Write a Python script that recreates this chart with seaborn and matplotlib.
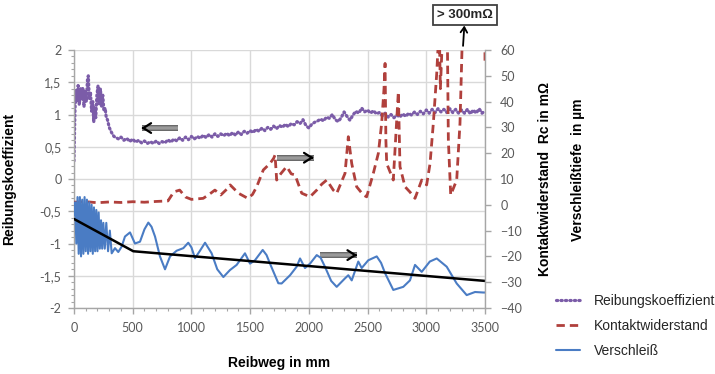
import numpy as np
import pandas as pd
import matplotlib
matplotlib.use("Agg")
import matplotlib.pyplot as plt
import matplotlib.patheffects as pe
import seaborn as sns

# ---- Reibungskoeffizient (linke Achse)
reib_x = [0, 8, 15, 25, 35, 45, 55, 65, 75, 85, 95, 105, 115, 122, 130, 140, 150, 160, 168, 176,
          185, 195, 205, 215, 225, 235, 245, 255, 265, 275, 285, 300, 320, 340, 360, 380,
          400, 425, 450, 475, 500, 525, 550, 575, 600, 625, 650, 675, 700, 725, 750, 775,
          800, 825, 850, 875, 900, 925, 950, 975, 1000, 1025, 1050, 1075, 1100, 1125, 1150, 1175,
          1200, 1225, 1250, 1275, 1300, 1325, 1350, 1375, 1400, 1425, 1450, 1475, 1500, 1525, 1550, 1575,
          1600, 1625, 1650, 1675, 1700, 1725, 1750, 1775, 1800, 1825, 1850, 1875, 1900, 1925, 1950, 1975,
          2000, 2025, 2050, 2075, 2100, 2125, 2150, 2175, 2200, 2225, 2250, 2275, 2300, 2325, 2350, 2375,
          2400, 2425, 2450, 2475, 2500, 2525, 2550, 2575, 2600, 2625, 2650, 2675, 2700, 2725, 2750, 2775,
          2800, 2825, 2850, 2875, 2900, 2925, 2950, 2975, 3000, 3025, 3050, 3075, 3100, 3125, 3150, 3175,
          3200, 3225, 3250, 3275, 3300, 3325, 3350, 3375, 3400, 3425, 3450, 3475, 3500]
reib_y = [0.28, 1.05, 1.38, 1.2, 1.45, 1.15, 1.4, 1.22, 1.42, 1.12, 1.35, 1.2, 1.55, 1.6, 1.25, 1.35, 1.05, 1.2, 0.88, 1.1,
          0.95, 1.3, 1.45, 1.15, 1.4, 1.12, 1.3, 1.05, 1.1, 0.95, 0.92, 0.8, 0.72, 0.66, 0.64, 0.62,
          0.65, 0.60, 0.63, 0.58, 0.62, 0.57, 0.60, 0.56, 0.59, 0.55, 0.58, 0.55, 0.59, 0.55, 0.58, 0.56,
          0.61, 0.57, 0.62, 0.59, 0.64, 0.60, 0.65, 0.61, 0.66, 0.62, 0.66, 0.63, 0.68, 0.64, 0.69, 0.65,
          0.70, 0.66, 0.70, 0.67, 0.71, 0.67, 0.72, 0.68, 0.73, 0.69, 0.74, 0.71, 0.75, 0.72, 0.77, 0.74,
          0.79, 0.75, 0.80, 0.77, 0.82, 0.78, 0.83, 0.80, 0.85, 0.81, 0.86, 0.84, 0.89, 0.86, 0.92, 0.83,
          0.79, 0.85, 0.88, 0.90, 0.93, 0.90, 0.96, 0.94, 1.00, 0.92, 0.89, 0.95, 1.04, 0.97, 0.91, 0.99,
          1.05, 1.02, 1.10, 1.04, 1.07, 1.02, 1.06, 1.01, 1.03, 0.98, 1.02, 0.96, 1.00, 0.95, 0.99, 0.96,
          1.01, 0.97, 1.02, 0.99, 1.04, 1.00, 1.05, 1.01, 1.07, 1.02, 1.08, 1.03, 1.09, 1.04, 1.08, 1.03,
          1.09, 1.03, 1.08, 1.02, 1.07, 1.02, 1.08, 1.01, 1.07, 1.02, 1.09, 1.02, 1.06]

# ---- Kontaktwiderstand in mOhm (rechte Achse)
kontakt_x = [0, 100, 200, 300, 400, 500, 600, 700, 800, 850, 900, 950, 1000, 1100, 1150, 1200, 1250,
             1300, 1330, 1400, 1480, 1520, 1556, 1612, 1669, 1700, 1712, 1726, 1760, 1811, 1850, 1882,
             1939, 2010, 2067, 2110, 2152, 2208, 2237, 2308, 2336, 2365, 2407, 2464, 2492, 2549, 2592,
             2620, 2640, 2649, 2656, 2663, 2719, 2762, 2776, 2819, 2860, 2904, 2961, 3003, 3032, 3060,
             3089, 3110, 3120, 3146, 3174, 3188, 3208, 3259, 3287, 3316, 3340, 3490, 3500]
kontakt_y = [1.0, 1.2, 0.8, 1.1, 0.9, 1.2, 1.0, 1.3, 1.5, 5.0, 5.7, 3.0, 2.1, 2.5, 4.0, 5.7, 3.8,
             6.0, 7.7, 4.5, 2.5, 4.0, 7.0, 13.5, 16.0, 18.0, 19.3, 9.6, 12.0, 14.8, 12.0, 11.6,
             4.5, 3.1, 5.7, 8.0, 9.6, 5.7, 4.4, 12.2, 26.4, 16.0, 7.0, 3.8, 3.1, 12.2, 20.0,
             31.6, 45.0, 54.8, 25.0, 16.0, 9.6, 43.8, 14.8, 7.0, 5.0, 2.5, 9.6, 7.7, 16.0, 31.6,
             51.0, 70.0, 45.0, 75.0, 90.0, 25.0, 3.8, 9.6, 31.6, 80.0, 300.0, 300.0, 55.0]

# ---- Verschleiss in um (rechte Achse)
versch_x = [0, 10, 20, 30, 40, 50, 60, 70, 80, 90, 100, 110, 120, 130, 140, 150, 160, 170, 180, 190,
            200, 210, 220, 230, 240, 250, 262, 275, 290, 305, 321, 349, 377, 406, 434, 477, 519, 562,
            600, 633, 660, 690, 732, 775, 818, 874, 931, 973, 1000, 1030, 1070, 1116, 1172, 1220, 1272,
            1328, 1385, 1456, 1499, 1541, 1607, 1640, 1669, 1740, 1768, 1840, 1896, 1925, 1967, 2010,
            2067, 2100, 2137, 2190, 2237, 2308, 2336, 2365, 2421, 2450, 2506, 2578, 2615, 2649, 2719,
            2804, 2861, 2904, 2961, 3030, 3089, 3174, 3259, 3344, 3415, 3486, 3500]
versch_y = [-4, 1, -15, 3, -19, 3, -20, 2, -19, 3, -18, 2, -19, 1, -18, 0, -19, -1, -18, -2,
            -18, -3, -17, -6, -17, -7, -17, -7, -18, -10, -18.8, -16.8, -18.3, -16.2, -12.3, -10.7, -15, -14.3,
            -9.5, -6.9, -8.5, -12.3, -20, -25, -20, -17.8, -16.8, -14.7, -16.5, -20.7, -18, -14.7, -18.8, -25, -28,
            -25.3, -23.3, -18.8, -22.8, -21.5, -17.5, -19.5, -22.8, -30.4, -30.5, -27.3, -24, -20.8, -24.5, -22.8,
            -19.5, -20.5, -24, -29.5, -31.8, -28.5, -27.3, -29.3, -22, -24.5, -21.5, -20, -22.5, -26.5, -33,
            -31.8, -29.3, -23.3, -26, -22, -20.8, -24, -30.5, -35, -33.8, -34, -34]

# Trendlinie Verschleiss
trend_x = [0, 505, 3500]
trend_y = [-5.5, -18, -29.5]

left_ticks = [2, 1.5, 1, 0.5, 0, -0.5, -1, -1.5, -2]
left_labels = ["2", "1,5", "1", "0,5", "0", "-0,5", "-1", "-1,5", "-2"]
right_ticks = [60, 50, 40, 30, 20, 10, 0, -10, -20, -30, -40]
x_ticks = [0, 500, 1000, 1500, 2000, 2500, 3000, 3500]

c_reib = "#7b5ca8"
c_kont = "#b0403c"
c_vers = "#4a7cc4"
grau = "#595959"

sns.set_style("white")
plt.rcParams["font.family"] = ["Lato", "DejaVu Sans"]

fig = plt.figure(figsize=(7.15, 3.74), dpi=100)
ax = fig.add_axes([74 / 715, 1 - 308 / 374, 411 / 715, 258 / 374])
ax2 = ax.twinx()

sns.lineplot(x=reib_x, y=reib_y, ax=ax, color=c_reib, lw=2.3, linestyle=(0, (0.4, 1.0)),
             dash_capstyle="round", estimator=None, label="Reibungskoeffizient")
sns.lineplot(x=kontakt_x, y=kontakt_y, ax=ax2, color=c_kont, lw=2.0, linestyle=(0, (3, 1.8)),
             estimator=None, label="Kontaktwiderstand")
sns.lineplot(x=versch_x, y=versch_y, ax=ax2, color=c_vers, lw=1.5, estimator=None, label="Verschleiß")
sns.lineplot(x=trend_x, y=trend_y, ax=ax2, color="black", lw=1.8, estimator=None)

h1 = ax.lines[0]
h2, h3 = ax2.lines[0], ax2.lines[1]
for a in (ax, ax2):
    if a.get_legend() is not None:
        a.get_legend().remove()

ax.set_xlim(0, 3500)
ax.set_ylim(-2, 2)
ax2.set_ylim(-40, 60)

ax.set_xticks(x_ticks)
ax.set_xticks(np.arange(0, 3501, 100), minor=True)
ax.set_yticks(left_ticks)
ax.set_yticklabels(left_labels)
ax.set_yticks(np.arange(-2, 2.01, 0.1), minor=True)
ax2.set_yticks(right_ticks)

ax.grid(True, which="major", color="#d9d9d9", lw=1.0)
ax.set_axisbelow(True)
ax2.grid(False)

for s in ["top", "right"]:
    ax.spines[s].set_visible(False)
for s in ["top", "left", "bottom"]:
    ax2.spines[s].set_visible(False)
for s in [ax.spines["left"], ax.spines["bottom"], ax2.spines["right"]]:
    s.set_color("#a6a6a6")
    s.set_linewidth(1.0)

ax.tick_params(axis="both", which="major", direction="out", length=4, width=1, color="#a6a6a6",
               labelcolor=grau, labelsize=9, left=True, bottom=True)
ax.tick_params(axis="both", which="minor", direction="out", length=2.5, width=0.8, color="#a6a6a6",
               left=True, bottom=True)
ax.tick_params(axis="y", pad=5)
ax.tick_params(axis="x", pad=6)
ax2.tick_params(axis="y", direction="out", length=4, width=1, color="#a6a6a6", labelcolor=grau,
                labelsize=9, right=True, pad=7)

lab = dict(fontsize=10, fontweight="bold", family=["Liberation Sans", "DejaVu Sans"], color="black")
ax.set_ylabel("Reibungskoeffizient", **lab)
ax.yaxis.set_label_coords(-0.14, 0.5)
ax.set_xlabel("Reibweg in mm", **lab)
ax.xaxis.set_label_coords(0.5, -0.185)
ax2.set_ylabel("")
ax.text(1.146, 0.5, "Kontaktwiderstand  Rc in mΩ", transform=ax.transAxes, rotation=90,
        ha="center", va="center", **lab)
ax.text(1.226, 0.535, "Verschleißtiefe  in µm", transform=ax.transAxes, rotation=90,
        ha="center", va="center", **lab)


# Pfeile, die auf die zugehoerige Achse zeigen
def pfeil(a, x0, x1, y):
    a.plot([x0, x1], [y, y], color="#9a9a9a", lw=2.6, solid_capstyle="butt",
           path_effects=[pe.Stroke(linewidth=4.0, foreground="#404040"), pe.Normal()], zorder=6)
    d = 1 if x1 > x0 else -1
    a.annotate("", xy=(x1 + d * 25, y), xytext=(x1 - d * 40, y),
               arrowprops=dict(arrowstyle="->,head_length=0.55,head_width=0.35", color="black", lw=1.6),
               zorder=7)


pfeil(ax, 886, 575, 0.79)
pfeil(ax, 1729, 2040, 0.33)
pfeil(ax, 2095, 2410, -1.18)

ax2.annotate("> 300mΩ", xy=(3313, 61.6), xytext=(3330, 73.6), ha="center", va="center",
             fontsize=9.5, fontweight="bold", family=["Liberation Sans", "DejaVu Sans"],
             bbox=dict(boxstyle="square,pad=0.3", fc="white", ec="#404040", lw=1.3),
             arrowprops=dict(arrowstyle="<-,head_length=0.4,head_width=0.25", color="black", lw=1.3,
                             shrinkA=0, shrinkB=0),
             annotation_clip=False)

leg = fig.legend(handles=[h1, h2, h3], labels=["Reibungskoeffizient", "Kontaktwiderstand", "Verschleiß"],
                 loc="upper left", bbox_to_anchor=(549 / 715, 1 - 287 / 374), frameon=False,
                 handlelength=1.7, handletextpad=1.0, labelspacing=0.8, borderpad=0,
                 prop={"family": ["Liberation Sans", "DejaVu Sans"], "size": 10})
for t in leg.get_texts():
    t.set_color("#262626")

fig.savefig("out.png", dpi=100)
